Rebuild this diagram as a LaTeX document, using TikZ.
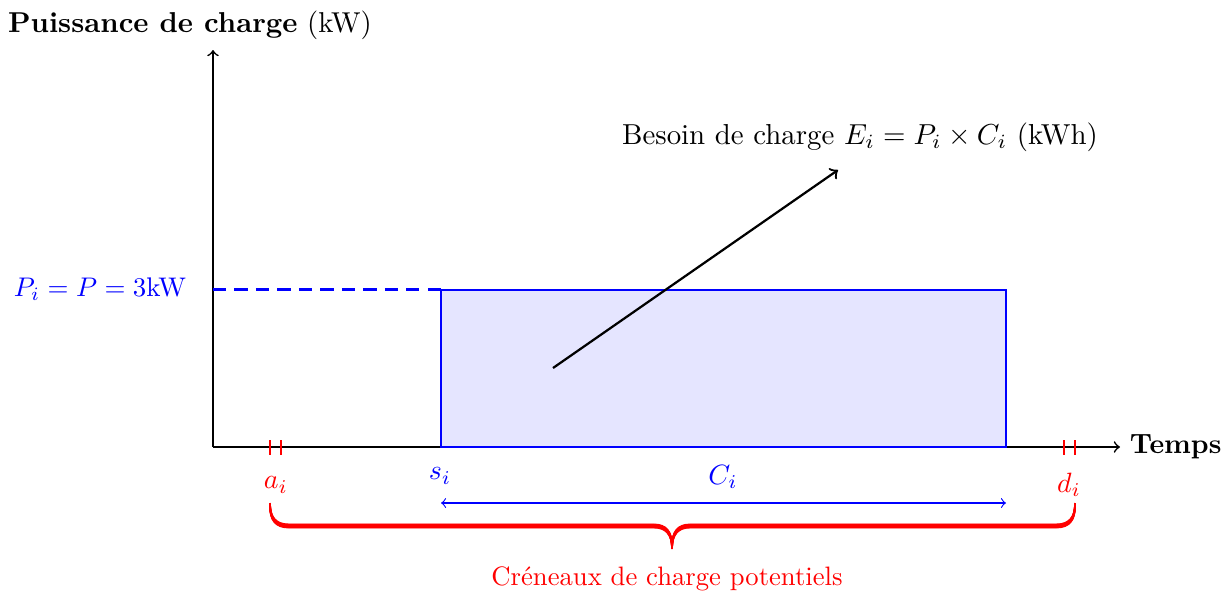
\documentclass[tikz,border=0pt]{standalone}
\usetikzlibrary{decorations.pathreplacing}
\begin{document}
\begin{tikzpicture}[x=0.3584pt,y=-0.3584pt,
  axis/.style={semithick,->},
  redtick/.style={red,thick},
  bracepen/.style={red,line width=0.6pt}]
\useasboundingbox (0,0) rectangle (1230,599);
% axes
\coordinate (O) at (213,447);
\coordinate (ytop) at (213,50);
\coordinate (xend) at (1120,447);
\draw[axis] (O) -- (ytop);
\draw[axis] (O) -- (xend);
\node[anchor=west,inner sep=3.33pt] (temps) at (xend) {\textbf{Temps}};
\node[scale=1.03] (ylabel) at (190,25) {\textbf{Puissance de charge} (kW)};
% power level
\coordinate (P0) at (213,289.5);
\coordinate (P1) at (441,289.5);
\draw[blue,line width=1.15pt,dash pattern=on 4.7pt off 3pt] (P0) -- (P1);
\node[blue,scale=0.965] (plabel) at (100,289) {$P_i = P = 3$kW};
% charging block
\coordinate (S) at (441,447);
\coordinate (E) at (1006,290);
\draw[blue,thick,fill=blue!10] (S) rectangle (E);
% energy arrow
\coordinate (A0) at (553,368);
\coordinate (A1) at (838,170);
\draw[thick,->] (A0) -- (A1);
\node[scale=1.035] (besoin) at (860,137) {Besoin de charge $E_i = P_i \times C_i$ (kWh)};
% ticks
\foreach \x/\n in {270/a1,281/a2,1064/d1,1075/d2}{
  \coordinate (\n t) at (\x,440);
  \coordinate (\n b) at (\x,455);
  \draw[redtick] (\n t) -- (\n b);
}
\node[red] (ai) at (276,485) {$a_i$};
\node[red] (di) at (1069,485) {$d_i$};
\node[blue] (si) at (440,476) {$s_i$};
\node[blue] (ci) at (723,477) {$C_i$};
% duration arrow
\coordinate (C0) at (441,503);
\coordinate (C1) at (1006,503);
\draw[blue,<->] (C0) -- (C1);
% calligraphic brace (vertical pen swept along the path)
\foreach \s in {-1.6,-1.2,-0.8,-0.4,0,0.4,0.8,1.2,1.6}{
  \draw[bracepen]
    (270,504.6+\s) .. controls (270,518+\s) and (275,526+\s) .. (289,526+\s)
    -- (654,526+\s) .. controls (666,526+\s) and (672,533+\s) .. (672,547.4+\s)
    .. controls (672,533+\s) and (678,526+\s) .. (690,526+\s)
    -- (1056,526+\s) .. controls (1070,526+\s) and (1075,518+\s) .. (1075,504.6+\s);
}
\node[red,scale=0.955] (creneaux) at (667,579) {Créneaux de charge potentiels};
\end{tikzpicture}
\end{document}
